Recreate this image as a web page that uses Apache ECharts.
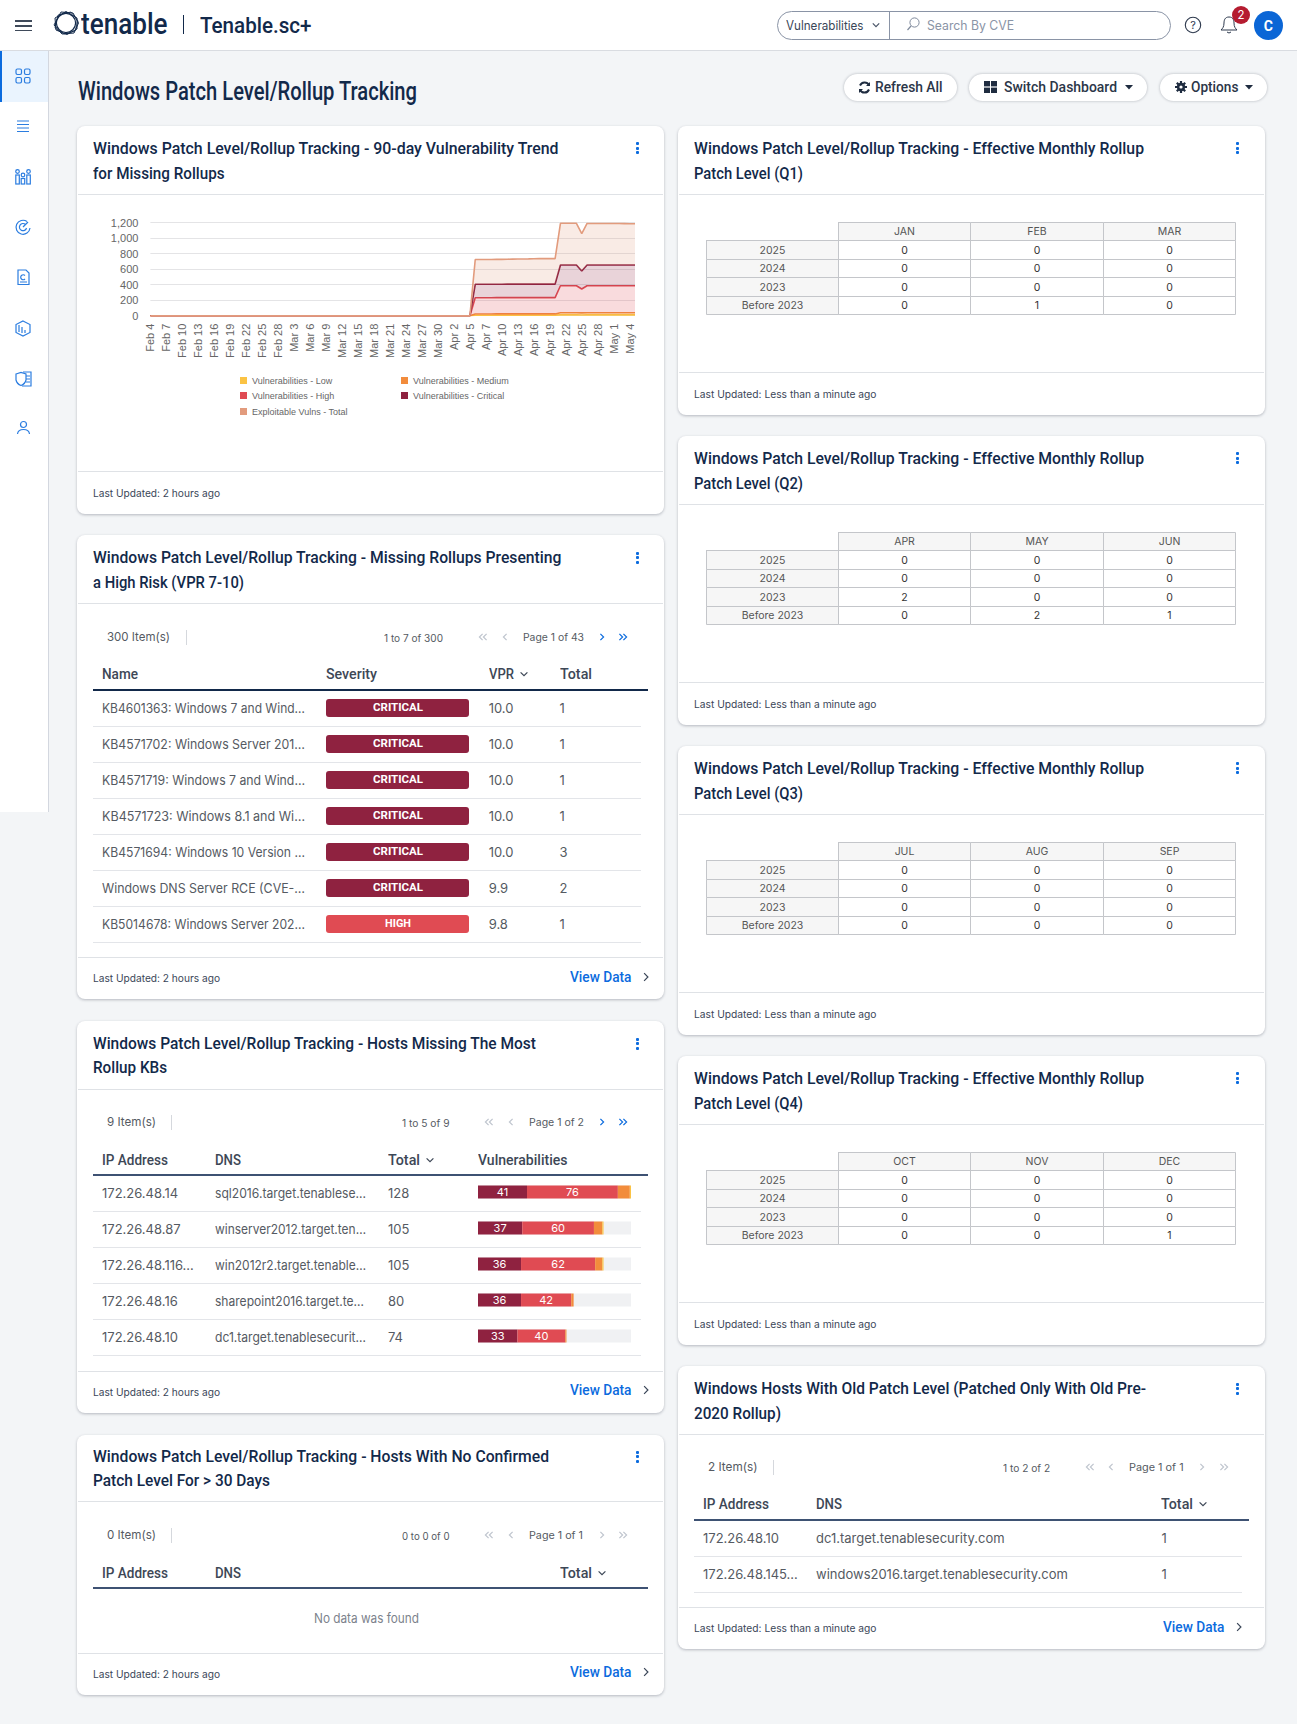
<!DOCTYPE html>
<html><head><meta charset="utf-8"><title>Windows Patch Level/Rollup Tracking</title>
<script src="https://cdn.jsdelivr.net/npm/echarts@6/dist/echarts.min.js"></script>
<style>
html,body{margin:0;padding:0;width:1297px;height:1724px;background:#F3F5F7;overflow:hidden}
#page{position:relative;width:1297px;height:1724px;overflow:hidden}
.a{position:absolute}
.t{position:absolute;white-space:nowrap;transform-origin:left center;line-height:20px;height:20px}
.card{position:absolute;background:#fff;border-radius:8px;box-shadow:0 1px 3px rgba(20,30,50,.28)}
.pill{position:absolute;background:#fff;border-radius:15px;box-shadow:0 0 3px rgba(20,30,50,.3)}
svg{position:absolute;overflow:visible}
</style></head><body><div id="page"></div>
<script>
/* ---------- data ---------- */
const dayLabels=['Feb 4','Feb 5','Feb 6','Feb 7','Feb 8','Feb 9','Feb 10','Feb 11','Feb 12','Feb 13','Feb 14','Feb 15','Feb 16','Feb 17','Feb 18','Feb 19','Feb 20','Feb 21','Feb 22','Feb 23','Feb 24','Feb 25','Feb 26','Feb 27','Feb 28','Mar 1','Mar 2','Mar 3','Mar 4','Mar 5','Mar 6','Mar 7','Mar 8','Mar 9','Mar 10','Mar 11','Mar 12','Mar 13','Mar 14','Mar 15','Mar 16','Mar 17','Mar 18','Mar 19','Mar 20','Mar 21','Mar 22','Mar 23','Mar 24','Mar 25','Mar 26','Mar 27','Mar 28','Mar 29','Mar 30','Mar 31','Apr 1','Apr 2','Apr 3','Apr 4','Apr 5','Apr 5','Apr 6','Apr 7','Apr 8','Apr 9','Apr 10','Apr 11','Apr 12','Apr 13','Apr 14','Apr 15','Apr 16','Apr 17','Apr 18','Apr 19','Apr 20','Apr 21','Apr 22','Apr 23','Apr 24','Apr 25','Apr 26','Apr 27','Apr 28','Apr 29','Apr 30','May 1','May 2','May 3','May 4','May 5'];
const vulnsLow=[0,0,0,0,0,0,0,0,0,0,0,0,0,0,0,0,0,0,0,0,0,0,0,0,0,0,0,0,0,0,0,0,0,0,0,0,0,0,0,0,0,0,0,0,0,0,0,0,0,0,0,0,0,0,0,0,0,0,0,0,0,6,6,6,6,7,7,7,7,7,7,7,7,7,7,7,7,11,11,11,11,10,11,11,11,11,11,11,11,11,11,11];
const vulnsMedium=[0,0,0,0,0,0,0,0,0,0,0,0,0,0,0,0,0,0,0,0,0,0,0,0,0,0,0,0,0,0,0,0,0,0,0,0,0,0,0,0,0,0,0,0,0,0,0,0,0,0,0,0,0,0,0,0,0,0,0,0,0,16,16,16,16,16,16,16,16,16,16,16,16,16,16,16,16,28,28,28,28,27,28,28,28,28,28,28,28,28,28,28];
const vulnsHigh=[0,0,0,0,0,0,0,0,0,0,0,0,0,0,0,0,0,0,0,0,0,0,0,0,0,0,0,0,0,0,0,0,0,0,0,0,0,0,0,0,0,0,0,0,0,0,0,0,0,0,0,0,0,0,0,0,0,0,0,0,0,210,210,210,210,210,210,210,210,210,210,210,210,210,210,210,210,348,348,348,348,308,348,348,348,348,348,348,348,348,348,348];
const vulnsCritical=[0,0,0,0,0,0,0,0,0,0,0,0,0,0,0,0,0,0,0,0,0,0,0,0,0,0,0,0,0,0,0,0,0,0,0,0,0,0,0,0,0,0,0,0,0,0,0,0,0,0,0,0,0,0,0,0,0,0,0,0,0,173,173,173,173,173,173,174,174,174,174,174,175,175,175,175,175,267,267,267,267,232,267,267,267,267,267,267,267,267,267,267];
const exploitTotal=[0,0,0,0,0,0,0,0,0,0,0,0,0,0,0,0,0,0,0,0,0,0,0,0,0,0,0,0,0,0,0,0,0,0,0,0,0,0,0,0,0,0,0,0,0,0,0,0,0,0,0,0,0,0,0,0,0,0,0,0,0,320,320,320,320,321,321,322,323,324,325,326,327,328,328,329,329,538,538,538,538,481,536,536,536,536,535,535,535,534,533,533];
const seriesNames=['Vulnerabilities - Low','Vulnerabilities - Medium','Vulnerabilities - High','Vulnerabilities - Critical','Exploitable Vulns - Total'];
const seriesColors=['#FBC344','#F28C3C','#E04B53','#8F2240','#E29B7D'];
const yTicks=[0,1200,200];

const months=[['JAN','FEB','MAR'],['APR','MAY','JUN'],['JUL','AUG','SEP'],['OCT','NOV','DEC']];
const years=['2025','2024','2023','Before 2023'];
const patchQ1=[[0,0,0],[0,0,0],[0,0,0],[0,1,0]];
const patchQ2=[[0,0,0],[0,0,0],[2,0,0],[0,2,1]];
const patchQ3=[[0,0,0],[0,0,0],[0,0,0],[0,0,0]];
const patchQ4=[[0,0,0],[0,0,0],[0,0,0],[0,0,1]];

const riskNames=['KB4601363: Windows 7 and Wind…','KB4571702: Windows Server 201…','KB4571719: Windows 7 and Wind…','KB4571723: Windows 8.1 and Wi…','KB4571694: Windows 10 Version …','Windows DNS Server RCE (CVE-…','KB5014678: Windows Server 202…'];
const riskSeverity=['CRITICAL','CRITICAL','CRITICAL','CRITICAL','CRITICAL','CRITICAL','HIGH'];
const riskVpr=['10.0','10.0','10.0','10.0','10.0','9.9','9.8'];
const riskTotal=[1,1,1,1,3,2,1];

const hostIps=['172.26.48.14','172.26.48.87','172.26.48.116…','172.26.48.16','172.26.48.10'];
const hostDns=['sql2016.target.tenablese…','winserver2012.target.ten…','win2012r2.target.tenable…','sharepoint2016.target.te…','dc1.target.tenablesecurit…'];
const hostTotal=[128,105,105,80,74];
const hostCritical=[41,37,36,36,33];
const hostHigh=[76,60,62,42,40];
const hostMedium=[10,7,6,2,1];
const hostLow=[1,1,1,0,0];

const oldIps=['172.26.48.10','172.26.48.145…'];
const oldDns=['dc1.target.tenablesecurity.com','windows2016.target.tenablesecurity.com'];
const oldTotal=[1,1];

/* ---------- helpers ---------- */
const page=document.getElementById('page');
const NAVY='#12294A',BLUE='#0B6BDE',GREY='#555A62',HEAD='#3D4756';
const INK='Inter,Roboto,sans-serif',BAR='Roboto,sans-serif',ARIAL='Liberation Sans';
function box(x,y,w,h,bg,extra){const d=document.createElement('div');d.className='a';d.style.cssText=`left:${x}px;top:${y}px;width:${w}px;height:${h}px;background:${bg};${extra||''}`;page.appendChild(d);return d;}
function T(x,y,s,o){o=o||{};const d=document.createElement('div');d.className='t';d.textContent=s;
 d.style.cssText=`left:${x}px;top:${y-10}px;font:${o.weight||400} ${o.size||12}px/20px ${o.font||INK};color:${o.color||GREY};${o.z?'z-index:'+o.z:''}`;
 page.appendChild(d);
 const m=d.getBoundingClientRect().width;
 if(o.w)d.style.transform=`scaleX(${o.w/m})`;
 if(o.center)d.style.left=(x-(o.w||m)/2)+'px';
 return d;}
function S(x,y,w,h,inner,vb){const n='http://www.w3.org/2000/svg';const s=document.createElementNS(n,'svg');s.setAttribute('width',w);s.setAttribute('height',h);s.setAttribute('viewBox',vb||`0 0 ${w} ${h}`);s.style.left=x+'px';s.style.top=y+'px';s.innerHTML=inner;page.appendChild(s);return s;}
function chev(cx,cy,dir,color,size){const r=size||3.2;const p=dir==='d'?`M${-r} ${-r/2}L0 ${r/2}L${r} ${-r/2}`:dir==='r'?`M${-r/2} ${-r}L${r/2} 0L${-r/2} ${r}`:`M${r/2} ${-r}L${-r/2} 0L${r/2} ${r}`;
 S(cx,cy,1,1,`<path d="${p}" fill="none" stroke="${color}" stroke-width="1.2"/>`);}
function card(x,y,w,h,lines,widths,divY,footY,dotOff){
 const d=document.createElement('div');d.className='card';d.style.cssText=`left:${x}px;top:${y}px;width:${w}px;height:${h}px`;page.appendChild(d);
 const tx=x+16;
 lines.forEach((l,i)=>T(tx,lines.ys[i],l,{size:16,weight:500,font:BAR,color:NAVY,w:widths[i]}));
 [-4.5,0,4.5].forEach(o=>box(x+w-dotOff,lines.ys[0]+o-2,3,3,BLUE,'border-radius:1px'));
 box(x+1,divY,w-2,1,'#DFE2E6');box(x+1,footY,w-2,1,'#DFE2E6');
}
function foot(x,y,s,vy,vx,cx){T(x,y+.7,s,{size:10.5,color:'#3A4658',w:s.length>27?182.5:127});
 if(vy){T(vx,vy,'View Data',{size:14,weight:500,font:BAR,color:BLUE,w:61.5});chev(cx,vy,'r','#3A4658',3.8);}}
function pager(o){
 T(o.itemsX,o.y-.5,o.items,{size:12,color:GREY,w:o.itemsW});
 box(o.sepX,o.y-7.5,1,15,'#D5D8DD');
 T(o.rangeX,o.y+1.8,o.range,{size:10.5,color:GREY,w:o.rangeW});
 const c1=o.back?BLUE:'#BFC5CE',c2=o.fwd?BLUE:'#BFC5CE';
 chev(o.a1-2,o.y,'l',c1);chev(o.a1+2,o.y,'l',c1);chev(o.a2,o.y,'l',c1);
 T(o.pageX,o.y+.5,o.page,{size:10.5,color:GREY,w:o.pageW});
 chev(o.a3,o.y,'r',c2);chev(o.a4-2,o.y,'r',c2);chev(o.a4+2,o.y,'r',c2);
}
function head(y,cols,lineX,lineW,lineY,lineC){cols.forEach(c=>{T(c[0],y,c[1],{size:14,weight:500,font:BAR,color:HEAD,w:c[2]});if(c[3])chev(c[3],y,'d',HEAD,3.4);});box(lineX,lineY-1,lineW,2,lineC);}

/* ---------- top chrome ---------- */
box(0,0,1297,50,'#fff');box(0,50,1297,1,'#D9DCE1');
box(0,51,48,761,'#fff');box(48,51,1,761,'#D3D7DF');
box(0,51,48,51,'#EAF4FE');box(0,51,1.5,51,BLUE);
[21,26,30.6].forEach(y=>box(15,y-.8,16.5,1.6,'#3F4A5A'));
S(53,11,26,24,'<g fill="none" stroke="#12294A"><path stroke-width="1" d="M8 1L20 2L25.5 12L21 22L9 23L1 14Z"/><path stroke-width="1" d="M13 .5L24 7L24 18L14 23.5L3 19L2 7Z"/><path stroke-width=".8" d="M5 4L18 1L25 10L22 20L11 23L2 17Z"/><circle cx="13" cy="12" r="9.6" stroke-width="1.2"/></g>');
T(81,23.5,'tenable',{size:30,weight:500,font:BAR,color:NAVY,w:86.5});
box(183,15,1,19,'#12294A');
T(199.6,26,'Tenable.sc+',{size:22,weight:500,font:BAR,color:NAVY,w:111.5});
box(777,11,394,29,'#fff','box-sizing:border-box;border:1px solid #8A94A6;border-radius:15px');
box(889,11,1,29,'#8A94A6');
T(785.6,25.7,'Vulnerabilities',{size:12.5,color:'#3A4658',w:77.5});chev(876,25,'d','#4A5568',3.2);
S(906,17,14,16,'<circle cx="8.5" cy="5.5" r="4.6" fill="none" stroke="#7F8A9C" stroke-width="1"/><path d="M5 9L1.5 13" stroke="#7F8A9C" stroke-width="1.2"/>');
T(927,25.7,'Search By CVE',{size:12.5,color:'#8A94A6',w:87});
S(1184,16,18,18,'<circle cx="9" cy="9" r="7.7" fill="none" stroke="#2E3A4E" stroke-width="1.1"/>');
T(1193,25,'?',{size:11,color:'#2E3A4E',center:true});
S(1220,15,18,20,'<path d="M9 2C5 2 4 5 4 8C4 12 2.5 13.5 1 15H17C15.5 13.5 14 12 14 8C14 5 13 2 9 2Z" fill="none" stroke="#2E3A4E" stroke-width="1"/><path d="M7 17Q9 19 11 17" fill="none" stroke="#2E3A4E"/>');
box(1232,6,18,18,'#B51C30','border-radius:50%');T(1241,15,'2',{size:11.5,color:'#fff',center:true});
box(1254,11,29,29,'#0B66D6','border-radius:50%');T(1268.4,25.5,'C',{size:14,weight:700,font:BAR,color:'#fff',center:true});

/* sidebar icons */
const ic='fill="none" stroke="#2B7DE0" stroke-width="1.2"';
S(15,68,16,16,`<g ${ic}><rect x="1" y="1" width="5.5" height="5.5" rx="1.4"/><rect x="9.5" y="1" width="5.5" height="5.5" rx="1.4"/><rect x="1" y="9.5" width="5.5" height="5.5" rx="1.4"/><rect x="9.5" y="9.5" width="5.5" height="5.5" rx="1.4"/></g>`);
S(17,120,13,13,`<path ${ic} d="M0 1H12M0 4.5H12M0 8H12M0 11.5H12"/>`);
S(15,169,16,16,`<g ${ic}><circle cx="2.5" cy="2.5" r="1.8"/><circle cx="13.5" cy="2.5" r="1.8"/><circle cx="8" cy="6" r="1.8"/><rect x=".8" y="6" width="3.5" height="9"/><rect x="6.2" y="9.5" width="3.5" height="5.5"/><rect x="11.8" y="6" width="3.5" height="9"/></g>`);
S(15,219,16,16,`<g ${ic}><path d="M12 2.5A7 7 0 1 0 15 9"/><path d="M10.5 5.5A3.6 3.6 0 1 0 11.5 9"/><path d="M8 8L13 3"/></g>`);
S(17,269,13,17,`<g ${ic}><path d="M1 1H9L12 4V15.5H1Z"/><path d="M8 6.5A2.5 2.5 0 1 0 8 10M3 13H10"/></g>`);
S(15,320,16,17,`<g ${ic}><path d="M8 1L15 4.5V12.5L8 16L1 12.5V4.5Z"/><path d="M4 5V12M7 7V13M10 10V13"/></g>`);
S(15,371,17,16,`<g ${ic}><path d="M1 3L6 1.5L11 3V9Q10 13 6 14.5Q2 13 1 9Z"/><path d="M8 1H16V15H7M11 5H15M11 8H15M11 11H15"/></g>`);
S(17,421,13,14,`<g ${ic}><circle cx="6.5" cy="3.5" r="3"/><path d="M.5 13Q1 8.5 6.5 8.5Q12 8.5 12.5 13"/></g>`);

/* page title and buttons */
T(78,90.7,'Windows Patch Level/Rollup Tracking',{size:26,weight:500,font:BAR,color:NAVY,w:339});
[[844,113],[969,178],[1160,107]].forEach(b=>{const d=document.createElement('div');d.className='pill';d.style.cssText=`left:${b[0]}px;top:74px;width:${b[1]}px;height:27px;border-radius:14px`;page.appendChild(d);});
S(858,81,13,13,'<path d="M11 4A5 5 0 0 0 2 4.5M2 9A5 5 0 0 0 11 8.5" fill="none" stroke="#1F2C40" stroke-width="2"/><path d="M12 1V5H8ZM1 12V8H5Z" fill="#1F2C40"/>');
T(874.8,87.3,'Refresh All',{size:14,weight:500,font:BAR,color:'#2B3648',w:67.6});
S(984,81,13,12,'<g fill="#1F2C40"><rect width="6" height="5.4"/><rect x="7" width="6" height="5.4"/><rect y="6.6" width="6" height="5.4"/><rect x="7" y="6.6" width="6" height="5.4"/></g>');
T(1004,87.3,'Switch Dashboard',{size:14,weight:500,font:BAR,color:'#2B3648',w:113});
S(1125,85,8,5,'<path d="M0 0H8L4 4.5Z" fill="#1F2C40"/>');
S(1175,81,12,12,'<path d="M6 0V12M0 6H12M1.8 1.8L10.2 10.2M10.2 1.8L1.8 10.2" stroke="#1F2C40" stroke-width="2.2"/><circle cx="6" cy="6" r="4.2" fill="#1F2C40"/><circle cx="6" cy="6" r="1.6" fill="#fff"/>');
T(1191,87.3,'Options',{size:14,weight:500,font:BAR,color:'#2B3648',w:47.4});
S(1245,85,8,5,'<path d="M0 0H8L4 4.5Z" fill="#1F2C40"/>');

function lines(a,ys){a.ys=ys;return a;}

/* ---------- card 1: trend chart ---------- */
card(77,126,587,388,lines(['Windows Patch Level/Rollup Tracking - 90-day Vulnerability Trend','for Missing Rollups'],[148.7,174]),[465.5,131.5],194,471,28);
foot(93,493.3,'Last Updated: 2 hours ago');
const trendDiv=box(77,195,587,275,'transparent');
const trendSeries=[vulnsLow,vulnsMedium,vulnsHigh,vulnsCritical,exploitTotal];
const legendSpots=[[158,176],[319,176],[158,191],[319,191],[158,207]];
echarts.init(trendDiv,null,{renderer:'svg'}).setOption({
 animation:false,
 grid:{left:73.4,top:27.7,width:484.6,height:93},
 xAxis:{type:'category',data:dayLabels,boundaryGap:false,axisTick:{show:false},axisLine:{show:false},
  axisLabel:{interval:2,rotate:90,margin:8,fontSize:11,fontFamily:ARIAL,color:'#666'}},
 yAxis:{type:'value',min:yTicks[0],max:yTicks[1],interval:yTicks[2],axisLine:{show:false},axisTick:{show:false},
  axisLabel:{margin:12,fontSize:11,fontFamily:ARIAL,color:'#666',padding:[0,0,1,0]},splitLine:{lineStyle:{color:'#E4E4E6',width:1}}},
 legend:seriesNames.map((n,i)=>({data:[n],left:legendSpots[i][0],top:legendSpots[i][1],itemWidth:7,itemHeight:7,icon:'rect',itemGap:0,
  textStyle:{fontSize:9,fontFamily:ARIAL,color:'#666',padding:[0,0,0,0]}})),
 series:trendSeries.map((d,i)=>({name:seriesNames[i],type:'line',stack:'v',data:d,symbol:'none',showSymbol:false,
  itemStyle:{color:seriesColors[i]},lineStyle:{color:seriesColors[i],width:1.6},areaStyle:{color:seriesColors[i],opacity:.2},z:2+i}))
});

/* ---------- card 2: high risk table ---------- */
card(77,535,587,464,lines(['Windows Patch Level/Rollup Tracking - Missing Rollups Presenting','a High Risk (VPR 7-10)'],[558,582.7]),[468.4,151],603,957,28);
pager({y:637,items:'300 Item(s)',itemsX:107,itemsW:63,sepX:185.5,range:'1 to 7 of 300',rangeX:384,rangeW:59,a1:483,a2:505,page:'Page 1 of 43',pageX:522.5,pageW:61,a3:601.5,a4:623,fwd:true});
head(674.3,[[102,'Name',36],[326,'Severity',51],[488.7,'VPR',25,524],[560,'Total',32]],93,555,690.3,'#12294A');
riskNames.forEach((n,i)=>{const y=707.7+36*i;
 T(102,y,n,{size:13,color:GREY,w:203});
 box(326,y-8.7,143,18,riskSeverity[i]==='HIGH'?seriesColors[2]:seriesColors[3],'border-radius:3px');
 T(397.5,y+.2,riskSeverity[i],{size:10.5,weight:700,color:'#fff',center:true,font:BAR,w:riskSeverity[i]==='HIGH'?26:50});
 T(488.7,y,riskVpr[i],{size:13,color:GREY});
 T(559.5,y,String(riskTotal[i]),{size:13,color:GREY});
 box(93,y+18.6,548,1,'#E3E5E9');
});
foot(93,978,'Last Updated: 2 hours ago',977,569.6,646);

/* ---------- card 3: hosts missing most ---------- */
card(77,1021,587,392,lines(['Windows Patch Level/Rollup Tracking - Hosts Missing The Most','Rollup KBs'],[1044,1068]),[443,74],1089,1371,28);
pager({y:1122,items:'9 Item(s)',itemsX:107,itemsW:49,sepX:171,range:'1 to 5 of 9',rangeX:401.5,rangeW:47.5,a1:489,a2:510.5,page:'Page 1 of 2',pageX:528.8,pageW:55,a3:601.5,a4:623,fwd:true});
head(1160,[[102,'IP Address',66],[215,'DNS',26],[388,'Total',32,429.5],[477.8,'Vulnerabilities',89.5]],93,555,1175,'#3E5273');
hostIps.forEach((n,i)=>{const y=1192.7+36*i;
 T(102,y,n,{size:13,color:GREY});
 T(215,y,hostDns[i],{size:13,color:GREY,w:[151,151,151,149,151][i]});
 T(388,y,String(hostTotal[i]),{size:13,color:GREY});
 box(93,y+18.3,548,1,'#E3E5E9');
});
foot(93,1392,'Last Updated: 2 hours ago',1390,569.6,646);
const barsDiv=box(478,1174,153,180,'transparent');
const barParts=[hostCritical,hostHigh,hostMedium,hostLow];
const barColors=[seriesColors[3],seriesColors[2],seriesColors[1],seriesColors[0]];
echarts.init(barsDiv,null,{renderer:'svg'}).setOption({
 animation:false,
 grid:{left:0,right:0,top:0,bottom:0},
 xAxis:{type:'value',min:0,max:hostTotal[0],show:false},
 yAxis:{type:'category',inverse:true,data:hostIps,show:false},
 series:barParts.map((d,i)=>({type:'bar',stack:'h',data:d,barWidth:13,
  showBackground:i===0,backgroundStyle:{color:'#F0F1F3'},
  itemStyle:{color:barColors[i]},
  label:{show:i<2,position:'inside',color:'#fff',fontSize:11,fontFamily:INK}}))
});

/* ---------- card 4: no data ---------- */
card(77,1435,587,260,lines(['Windows Patch Level/Rollup Tracking - Hosts With No Confirmed','Patch Level For > 30 Days'],[1457.3,1481.3]),[456,177],1501,1653,28);
pager({y:1535,items:'0 Item(s)',itemsX:107,itemsW:49,sepX:171,range:'0 to 0 of 0',rangeX:401.5,rangeW:47.5,a1:489,a2:510.5,page:'Page 1 of 1',pageX:528.8,pageW:54,a3:601.5,a4:623});
head(1573,[[102,'IP Address',66],[215,'DNS',26],[560,'Total',32,602]],93,555,1588,'#3E5273');
T(366.5,1617.7,'No data was found',{size:13,color:'#7C828C',center:true,w:105});
foot(93,1674,'Last Updated: 2 hours ago',1672,569.6,646);

/* ---------- right column: matrix cards ---------- */
const quarters=[patchQ1,patchQ2,patchQ3,patchQ4];
const titles=['Q1','Q2','Q3','Q4'];
quarters.forEach((q,k)=>{const top=126+310*k;
 card(678,top,587,289,lines(['Windows Patch Level/Rollup Tracking - Effective Monthly Rollup','Patch Level ('+titles[k]+')'],[top+22.7,top+47.9]),[450,109],top+68,top+246,29);
 foot(693.6,top+268.3,'Last Updated: Less than a minute ago');
 const d=box(700,top+90,545,105,'transparent');
 const bodyData=[];q.forEach((row,r)=>row.forEach((v,c)=>bodyData.push({coord:[months[k][c],years[r]],value:String(v)})));
 const cellBorder='#C4C6CA';
 echarts.init(d,null,{renderer:'svg'}).setOption({
  animation:false,
  matrix:{left:6,top:6,width:529,height:92.5,
   x:{data:months[k],levelSize:18.5,itemStyle:{color:'#F6F6F6',borderColor:cellBorder,borderWidth:1},label:{fontSize:10.5,fontFamily:INK,color:'#555'},dividerLineStyle:{color:cellBorder,width:1}},
   y:{data:years,levelSize:132.3,itemStyle:{color:'#F6F6F6',borderColor:cellBorder,borderWidth:1},label:{fontSize:10.5,fontFamily:INK,color:'#555'},dividerLineStyle:{color:cellBorder,width:1}},
   body:{data:bodyData,itemStyle:{color:'#fff',borderColor:cellBorder,borderWidth:1},label:{fontSize:10.5,fontFamily:INK,color:'#333'}},
   corner:{itemStyle:{color:'#fff',borderColor:'#fff',borderWidth:0}},
   backgroundStyle:{color:'transparent',borderWidth:0}
  }
 });
});

/* ---------- card 5: old patch ---------- */
card(678,1366,587,283,lines(['Windows Hosts With Old Patch Level (Patched Only With Old Pre-','2020 Rollup)'],[1389,1414]),[452,87],1434,1607,29);
pager({y:1467,items:'2 Item(s)',itemsX:708,itemsW:49.6,sepX:772.8,range:'1 to 2 of 2',rangeX:1002.8,rangeW:47.2,a1:1089.6,a2:1111,page:'Page 1 of 1',pageX:1129,pageW:54.6,a3:1202,a4:1223.6});
head(1504,[[703,'IP Address',66],[816,'DNS',26],[1161,'Total',32,1203]],694,555,1520,'#3E5273');
oldIps.forEach((n,i)=>{const y=1537.7+36*i;
 T(703,y,n,{size:13,color:GREY});
 T(816,y,oldDns[i],{size:13,color:GREY});
 T(1161.6,y,String(oldTotal[i]),{size:13,color:GREY});
 box(694,y+18.3,548,1,'#E3E5E9');
});
foot(693.6,1628,'Last Updated: Less than a minute ago',1627,1162.8,1239);
</script></body></html>
